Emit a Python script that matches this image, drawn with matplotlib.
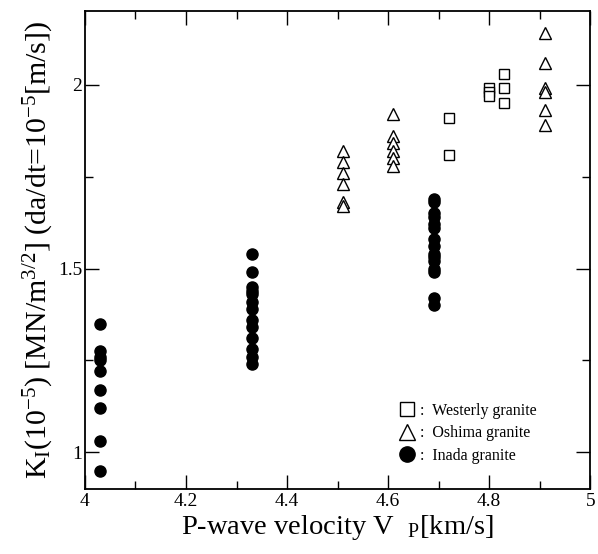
import matplotlib
matplotlib.use("Agg")
import matplotlib.pyplot as plt
from matplotlib.ticker import MultipleLocator
from matplotlib.lines import Line2D

plt.rcParams['font.family'] = ['Liberation Serif', 'DejaVu Serif']
plt.rcParams['mathtext.fontset'] = 'custom'
plt.rcParams['mathtext.rm'] = 'Liberation Serif'
plt.rcParams['mathtext.it'] = 'Liberation Serif:italic'

# Westerly granite (open squares)
westerly_x = [4.72, 4.72, 4.80, 4.80, 4.80, 4.83, 4.83, 4.83]
westerly_y = [1.91, 1.81, 1.99, 1.98, 1.97, 2.03, 1.99, 1.95]

# Oshima granite (open triangles)
oshima_x = [4.51] * 6 + [4.61] * 6 + [4.91] * 6
oshima_y = [1.82, 1.79, 1.76, 1.73, 1.68, 1.67,
            1.92, 1.86, 1.84, 1.82, 1.80, 1.78,
            2.14, 2.06, 1.99, 1.98, 1.93, 1.89]

# Inada granite (filled circles)
inada_x = [4.03] * 9 + [4.33] * 13 + [4.69] * 15
inada_y = [1.35, 1.275, 1.26, 1.25, 1.22, 1.17, 1.12, 1.03, 0.95,
           1.54, 1.49, 1.45, 1.44, 1.43, 1.41, 1.39, 1.36, 1.34, 1.31, 1.28, 1.26, 1.24,
           1.69, 1.68, 1.65, 1.64, 1.62, 1.61, 1.58, 1.56, 1.54, 1.53, 1.52, 1.50, 1.49, 1.42, 1.40]

fig = plt.figure(figsize=(5.98, 5.54), dpi=100)
ax = fig.add_axes([0.142, 0.117, 0.845, 0.863])

ax.plot(westerly_x, westerly_y, linestyle='none', marker='s', markersize=6.5,
        markerfacecolor='white', markeredgecolor='black', markeredgewidth=1.0)
ax.plot(oshima_x, oshima_y, linestyle='none', marker='^', markersize=8.5,
        markerfacecolor='white', markeredgecolor='black', markeredgewidth=1.0)
ax.plot(inada_x, inada_y, linestyle='none', marker='o', markersize=8,
        markerfacecolor='black', markeredgecolor='black')

ax.set_xlim(4, 5)
ax.set_ylim(0.9, 2.2)
ax.xaxis.set_minor_locator(MultipleLocator(0.1))
ax.yaxis.set_minor_locator(MultipleLocator(0.25))
ax.set_xticks([4, 4.2, 4.4, 4.6, 4.8, 5])
ax.set_xticklabels(['4', '4.2', '4.4', '4.6', '4.8', '5'])
ax.set_yticks([1, 1.5, 2])
ax.set_yticklabels(['1', '1.5', '2'])

ax.tick_params(which='both', direction='in', top=True, right=True, width=1.0,
               labelsize=14)
ax.tick_params(axis='x', pad=3)
ax.tick_params(axis='y', pad=2)
ax.tick_params(which='major', length=10)
ax.tick_params(which='minor', length=6)
for s in ax.spines.values():
    s.set_linewidth(1.3)

ax.set_xlabel(r'P-wave velocity V  $_\mathrm{P}$[km/s]', fontsize=20.5, labelpad=2)
ax.set_ylabel(r'K$_\mathrm{I}$(10$^{-5}$) [MN/m$^{3/2}$] (da/dt=10$^{-5}$[m/s])',
              fontsize=21.5, labelpad=1)

handles = [
    Line2D([], [], linestyle='none', marker='s', markersize=10, markerfacecolor='white',
           markeredgecolor='black', markeredgewidth=1.0),
    Line2D([], [], linestyle='none', marker='^', markersize=11, markerfacecolor='white',
           markeredgecolor='black', markeredgewidth=1.0),
    Line2D([], [], linestyle='none', marker='o', markersize=11, markerfacecolor='black',
           markeredgecolor='black'),
]
labels = [':  Westerly granite', ':  Oshima granite', ':  Inada granite']
ax.legend(handles, labels, loc='lower left', bbox_to_anchor=(0.6, 0.03),
          frameon=False, fontsize=11.5, handlelength=1.0, handletextpad=0.3,
          labelspacing=0.4, borderpad=0.2)

fig.savefig('out.png', dpi=100)
